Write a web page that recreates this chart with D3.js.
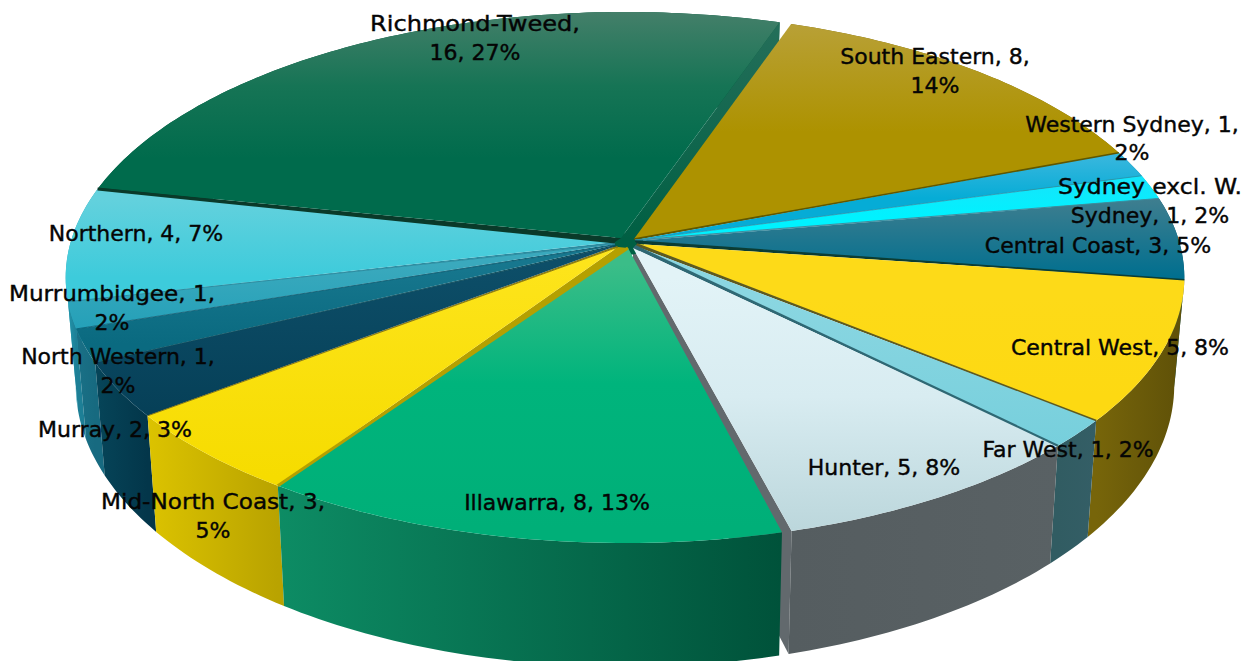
<!DOCTYPE html>
<html><head><meta charset="utf-8">
<script src="https://cdnjs.cloudflare.com/ajax/libs/d3/7.8.5/d3.min.js"></script>
<style>html,body{margin:0;padding:0;background:#fff;overflow:hidden}svg{display:block}
text{font-family:"DejaVu Sans",sans-serif;font-size:22px;fill:#050505;stroke:#050505;stroke-width:0.4;text-anchor:middle;dominant-baseline:central}</style>
</head><body><svg id="c" width="1260" height="661"></svg>
<script>
// ---- data
const regions = ["Richmond-Tweed","South Eastern","Western Sydney","Sydney excl. W. Sydney","Central Coast","Central West","Far West","Hunter","Illawarra","Mid-North Coast","Murray","North Western","Murrumbidgee","Northern"];
const counts = [16,8,1,1,3,5,1,5,8,3,2,1,1,4];
const percents = [27,14,2,2,5,8,2,8,13,5,3,2,2,7];
const shares = [26.8,14.1,1.6,1.5,5.0,8.5,1.7,8.5,13.3,5.1,3.3,2.0,1.6,6.9];

// ---- styling, parallel to the data
const topStops = [
  [["#437f69",0.02],["#167455",0.13],["#006b4c",0.24]],
  [["#b8a035",0.04],["#ad9200",0.2]],
  [["#35b6dd",0.24],["#06acd6",0.3]],
  [["#13e6fb",0.28],["#00f2ff",0.33]],
  [["#3f7e8f",0.3],["#006f8f",0.42]],
  [["#fdda18",0.45],["#fdd912",0.6]],
  [["#8ad6e1",0.45],["#76cfdc",0.68]],
  [["#e2f3f7",0.42],["#d8ecf1",0.6],["#bcd7dc",0.8]],
  [["#3bbd88",0.4],["#00b47c",0.58],["#00af78",0.8]],
  [["#fde41b",0.4],["#f6dc00",0.72]],
  [["#0d4e68",0.4],["#064058",0.62]],
  [["#17778e",0.4],["#0a6a80",0.52]],
  [["#3aa9bd",0.4],["#24a0b8",0.5]],
  [["#63d1dd",0.3],["#3dcbdb",0.42]]
];
const wallColors = [
  ["#00553a","#00553a"],["#7a680a","#7a680a"],["#1f8ba3","#1f8ba3"],["#00b5c4","#00b5c4"],
  ["#054f66","#054f66"],["#77650a","#5e5008"],["#315c62","#345e66"],["#555d60","#596164"],
  ["#0d8c64","#00523a"],["#dcc300","#b9a300"],["#064559","#03364a"],["#1a7187","#176a80"],
  ["#2395ab","#1d7f96"],["#2aa5ba","#2aa5ba"]
];
const seamColors = ["#0a3a2a","#5f5700","#2a8fa8","#3a8ea0","#0b3d34","#5d5a22","#2f6874","#666f73","#b5a000","#8a7a10","#0a4a5a","#0a5a70","#2c8ca0","#0a3a2a"];
const seamWidths = [0,1.6,0.8,1,1.6,1.6,2.2,0,3,1,0.8,0.8,1,3];
// apex of each slice relative to the pie centre
const apexShift = [[-4,-3],[9,-2],[10,-1],[10,-1],[10,0],[12,3],[10,5],[8,7],[3,7],[-7,6],[-9,5],[-10,4],[-10,3],[-10,1]];
const labelLines = [
  [["Richmond-Tweed,",475,23,210],["16, 27%",475,52]],
  [["South Eastern, 8,",935,56],["14%",935,85]],
  [["Western Sydney, 1,",1132,124],["2%",1132,152]],
  [["Sydney excl. W.",1150,186,184],["Sydney, 1, 2%",1150,215]],
  [["Central Coast, 3, 5%",1098,245]],
  [["Central West, 5, 8%",1120,347]],
  [["Far West, 1, 2%",1068,449]],
  [["Hunter, 5, 8%",884,467]],
  [["Illawarra, 8, 13%",557,502]],
  [["Mid-North Coast, 3,",213,501,224],["5%",213,530]],
  [["Murray, 2, 3%",115,429]],
  [["North Western, 1,",118,356],["2%",118,385]],
  [["Murrumbidgee, 1,",112,293,206],["2%",112,322]],
  [["Northern, 4, 7%",136,233]]
];

// ---- projection of the tilted disc
const W = 1260, H = 661, cx = 625, cy = 241;
const rad = Math.PI/180;
const ax = 554, by = 260.5, persp = 0.1375;
const project = a => { const u = Math.sin(a), v = -Math.cos(a), w = 1 - persp*v; return [cx + ax*u/w, cy + by*v/w]; };
const drop = p => [cx + (p[0]-cx)*0.982, p[1] + 116 + 0.061*(p[1]-415)];
const line = d3.line();
const rimOf = (a0,a1) => { const n = Math.max(4, Math.ceil((a1-a0)/rad)); return d3.range(n+1).map(i => project(a0 + (a1-a0)*i/n)); };

const start = (18.3 - shares[0]*3.6)*rad;
const arcs = d3.pie().sort(null).value(d => d).startAngle(start).endAngle(start + 2*Math.PI)(shares);
const slices = arcs.map((d,i) => {
  let a0 = d.startAngle, a1 = d.endAngle;
  if (i === 0) a0 += 0.3*rad;       // Richmond-Tweed sits slightly proud of Northern
  if (i === 1) a0 += 1.4*rad;       // gap after Richmond-Tweed
  if (i === 7) a1 -= 0.9*rad;       // gap before Illawarra
  const apex = [cx + apexShift[i][0], cy + apexShift[i][1]];
  return {i, a0, a1, apex, rim: rimOf(a0,a1)};
});

const svg = d3.select("#c");
svg.append("rect").attr("width",W).attr("height",H).attr("fill","#fff");
const defs = svg.append("defs");
slices.forEach(s => {
  const g = defs.append("linearGradient").attr("id","t"+s.i).attr("gradientUnits","userSpaceOnUse")
    .attr("x1",0).attr("x2",0).attr("y1",0).attr("y2",H);
  topStops[s.i].forEach(t => g.append("stop").attr("offset",t[1]).attr("stop-color",t[0]));
  const xs = d3.extent(s.rim, p => p[0]);
  const w = defs.append("linearGradient").attr("id","w"+s.i).attr("gradientUnits","userSpaceOnUse")
    .attr("x1",xs[0]).attr("x2",xs[1]).attr("y1",0).attr("y2",0);
  w.append("stop").attr("offset",0).attr("stop-color",wallColors[s.i][0]);
  w.append("stop").attr("offset",1).attr("stop-color",wallColors[s.i][1]);
});
const rg = defs.append("linearGradient").attr("id","rw").attr("gradientUnits","userSpaceOnUse").attr("x1",0).attr("x2",0).attr("y1",20).attr("y2",240);
rg.append("stop").attr("offset",0).attr("stop-color","#256f5a");
rg.append("stop").attr("offset",1).attr("stop-color","#005f43");

// Hunter's radial wall sits behind Illawarra's outer wall
const hunter = slices[7], hunterEnd = hunter.rim[hunter.rim.length-1];
svg.append("path").attr("d", line([hunter.apex, hunterEnd, drop(hunterEnd), drop(hunter.apex)])+"Z").attr("fill","#62696d");
// outer walls
const wallOrder = d3.range(slices.length).sort((p,q) => -Math.cos(slices[p].a0/2+slices[p].a1/2) + Math.cos(slices[q].a0/2+slices[q].a1/2));
wallOrder.forEach(i => {
  const s = slices[i];
  const poly = s.rim.concat(s.rim.map(drop).reverse());
  svg.append("path").attr("d", line(poly)+"Z").attr("fill",`url(#w${i})`);
});
// central hub seen between the slice tips, and Richmond-Tweed's radial wall
svg.append("ellipse").attr("cx",cx+3).attr("cy",cy+3).attr("rx",16).attr("ry",11).attr("fill","#005f43");
const rich = slices[0], richEnd = rich.rim[rich.rim.length-1];
svg.append("path").attr("d", line([rich.apex, richEnd, drop(richEnd), slices[1].apex])+"Z").attr("fill","url(#rw)");
// wedges between neighbouring slices
slices.forEach((s,j) => {
  if (j === 0 || j === 7) return;
  const n = slices[(j+1) % slices.length];
  svg.append("path").attr("d", line([s.apex, s.rim[s.rim.length-1], n.rim[0], n.apex])+"Z").attr("fill",seamColors[j]);
});
// top faces
svg.selectAll("path.top").data(slices).join("path").attr("class","top")
  .attr("d", s => line([s.apex].concat(s.rim))+"Z").attr("fill", s => `url(#t${s.i})`);
// seams at the trailing edge of each slice
svg.selectAll("path.seam").data(slices.filter(s => seamWidths[s.i] > 0)).join("path").attr("class","seam")
  .attr("d", s => line([s.apex, s.rim[s.rim.length-1]])).attr("fill","none")
  .attr("stroke", s => seamColors[s.i]).attr("stroke-width", s => seamWidths[s.i]);

// labels
svg.append("g").selectAll("text").data(labelLines.flat()).join("text")
  .attr("x", d => d[1]).attr("y", d => d[2])
  .attr("textLength", d => d[3] || null).attr("lengthAdjust", d => d[3] ? "spacingAndGlyphs" : null)
  .text(d => d[0]);
</script></body></html>
